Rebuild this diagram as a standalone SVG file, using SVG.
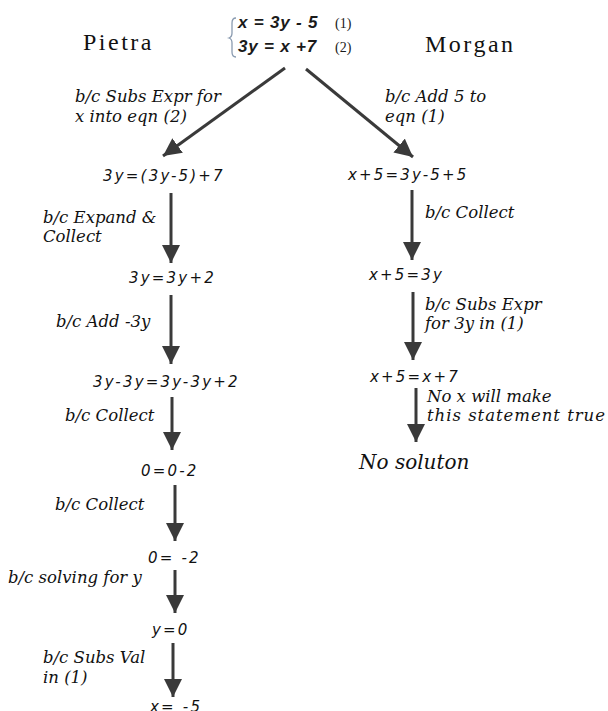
<svg xmlns="http://www.w3.org/2000/svg" width="608" height="711" viewBox="0 0 608 711">
<style>
.title{font-family:"Liberation Serif",serif;font-size:24px;letter-spacing:2.5px;fill:#111}
.sys{font-family:"Liberation Sans",sans-serif;font-weight:bold;font-style:italic;font-size:17px;letter-spacing:0.8px;fill:#1a1a1a}
.num{font-family:"Liberation Serif",serif;font-size:14px;fill:#1a1a1a}
.eq{font-family:"DejaVu Sans",sans-serif;font-style:italic;font-size:15px;letter-spacing:2.2px;fill:#111}
.lbl{font-family:"DejaVu Serif",serif;font-style:italic;font-size:16.5px;fill:#111}
.big{font-family:"DejaVu Serif",serif;font-style:italic;font-size:20px;fill:#111}
.conn{stroke:#3a3a3a;stroke-width:3;fill:none}
</style>
<defs>
<marker id="ah" markerUnits="userSpaceOnUse" markerWidth="20" markerHeight="18" refX="18" refY="9" orient="auto">
<path d="M0,0 L18,9 L0,18 z" fill="#3a3a3a"/>
</marker>
</defs>
<rect width="608" height="711" fill="#fff"/>

<g id="title-pietra"><text class="title" x="83" y="50">Pietra</text></g>
<g id="title-morgan"><text class="title" x="425" y="52">Morgan</text></g>

<g id="system">
<path d="M236,18 Q232,18 232,23 L232,33 Q232,37 229,38 Q232,39 232,43 L232,52 Q232,57 236,57" fill="none" stroke="#8a9bb0" stroke-width="1.3"/>
<text class="sys" x="238" y="28">x = 3y - 5</text>
<text class="num" x="335" y="28">(1)</text>
<text class="sys" x="238" y="52">3y = x +7</text>
<text class="num" x="335" y="52">(2)</text>
</g>

<g id="connectors">
<line class="conn" x1="285" y1="68" x2="163" y2="156" marker-end="url(#ah)"/>
<line class="conn" x1="306" y1="69" x2="413" y2="157" marker-end="url(#ah)"/>
<line class="conn" x1="171" y1="193" x2="171" y2="263" marker-end="url(#ah)"/>
<line class="conn" x1="171" y1="295" x2="171" y2="364" marker-end="url(#ah)"/>
<line class="conn" x1="172" y1="397" x2="172" y2="450" marker-end="url(#ah)"/>
<line class="conn" x1="175" y1="485" x2="175" y2="541" marker-end="url(#ah)"/>
<line class="conn" x1="175" y1="570" x2="175" y2="613" marker-end="url(#ah)"/>
<line class="conn" x1="173" y1="643" x2="173" y2="697" marker-end="url(#ah)"/>
<line class="conn" x1="412" y1="190" x2="412" y2="260" marker-end="url(#ah)"/>
<line class="conn" x1="413" y1="292" x2="413" y2="360" marker-end="url(#ah)"/>
<line class="conn" x1="416" y1="388" x2="416" y2="442" marker-end="url(#ah)"/>
</g>

<g id="label-subs">
<text class="lbl" x="75" y="102">b/c Subs Expr for</text>
<text class="lbl" x="75" y="122">x into eqn (2)</text>
</g>
<g id="label-add5">
<text class="lbl" x="385" y="102">b/c Add 5 to</text>
<text class="lbl" x="385" y="122">eqn (1)</text>
</g>

<g id="p1"><text class="eq" x="103" y="181">3y=(3y-5)+7</text></g>
<g id="l-expand">
<text class="lbl" x="43" y="223">b/c Expand &amp;</text>
<text class="lbl" x="43" y="242">Collect</text>
</g>
<g id="p2"><text class="eq" x="129" y="283">3y=3y+2</text></g>
<g id="l-add3y"><text class="lbl" x="56" y="327">b/c Add -3y</text></g>
<g id="p3"><text class="eq" x="93" y="387">3y-3y=3y-3y+2</text></g>
<g id="l-collect1"><text class="lbl" x="65" y="421">b/c Collect</text></g>
<g id="p4"><text class="eq" x="141" y="476">0=0-2</text></g>
<g id="l-collect2"><text class="lbl" x="55" y="510">b/c Collect</text></g>
<g id="p5"><text class="eq" x="148" y="563">0= -2</text></g>
<g id="l-solving"><text class="lbl" x="8" y="583">b/c solving for y</text></g>
<g id="p6"><text class="eq" x="152" y="635">y=0</text></g>
<g id="l-subsval">
<text class="lbl" x="43" y="663">b/c Subs Val</text>
<text class="lbl" x="43" y="683">in (1)</text>
</g>
<g id="p7"><text class="eq" x="150" y="712">x= -5</text></g>

<g id="m1"><text class="eq" x="348" y="180">x+5=3y-5+5</text></g>
<g id="l-mcollect"><text class="lbl" x="425" y="218">b/c Collect</text></g>
<g id="m2"><text class="eq" x="369" y="280">x+5=3y</text></g>
<g id="l-msubs">
<text class="lbl" x="425" y="310">b/c Subs Expr</text>
<text class="lbl" x="425" y="329">for 3y in (1)</text>
</g>
<g id="m3"><text class="eq" x="370" y="382">x+5=x+7</text></g>
<g id="l-nox">
<text class="lbl" x="427" y="402">No x will make</text>
<text class="lbl" x="427" y="421" textLength="178" lengthAdjust="spacing">this statement true</text>
</g>
<g id="m4"><text class="big" x="359" y="469">No soluton</text></g>
</svg>
